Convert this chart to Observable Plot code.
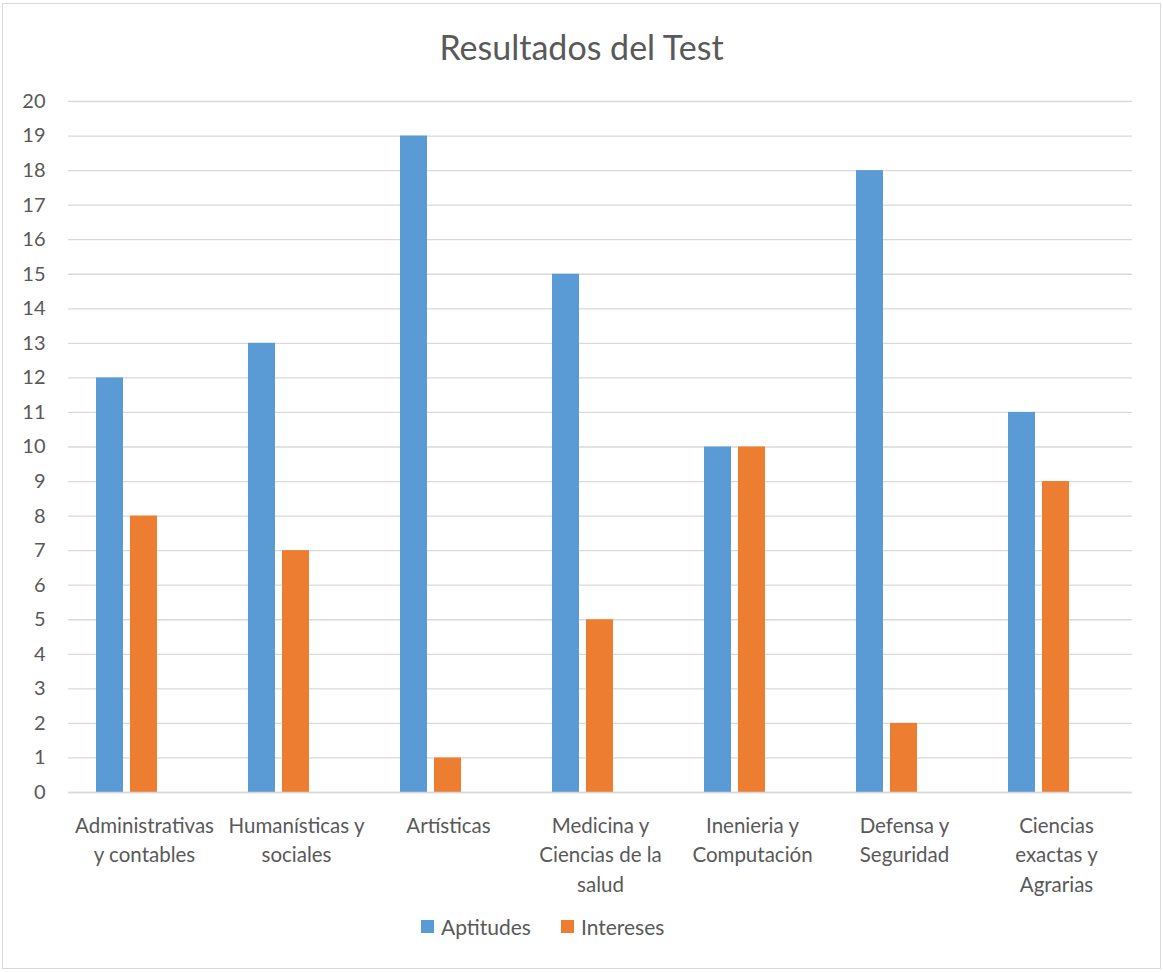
<!DOCTYPE html>
<html>
<head>
<meta charset="utf-8">
<script src="https://cdn.jsdelivr.net/npm/d3@7"></script>
<script src="https://cdn.jsdelivr.net/npm/@observablehq/plot@0.6"></script>
<style>
  body { margin: 0; background: #fff; font-family: Lato, "Open Sans", sans-serif; color: #595959; }
  #frame { position: absolute; left: 2px; top: 3px; width: 1159px; height: 966px; border: 1px solid #d9d9d9; box-sizing: border-box; }
  #title { position: absolute; left: 0; top: 26px; width: 1163px; text-align: center; font-size: 34px; color: #595959; }
  #chart { position: absolute; left: 0; top: 80px; }
  #legend { position: absolute; left: 421px; top: 914px; display: flex; align-items: center; font-size: 21px; color: #595959; }
  .sw { width: 13px; height: 13px; display: inline-block; margin-right: 7px; }
</style>
</head>
<body>
<div id="frame"></div>
<div id="title">Resultados del Test</div>
<div id="chart"></div>
<div id="legend">
  <span class="sw" style="background:#5b9bd5"></span><span>Aptitudes</span>
  <span class="sw" style="background:#ed7d31; margin-left:30px"></span><span>Intereses</span>
</div>
<script>
const categories = [
  "Administrativas\ny contables",
  "Humanísticas y\nsociales",
  "Artísticas",
  "Medicina y\nCiencias de la\nsalud",
  "Inenieria y\nComputación",
  "Defensa y\nSeguridad",
  "Ciencias\nexactas y\nAgrarias"
];
const aptitudes = [12, 13, 19, 15, 10, 18, 11];
const intereses = [8, 7, 1, 5, 10, 2, 9];
const seriesNames = ["Aptitudes", "Intereses", " "];
const seriesColors = ["#5b9bd5", "#ed7d31", "#ffffff"];
const yTicks = d3.range(0, 21, 1);

const data = [];
categories.forEach((c, i) => {
  data.push({cat: c, series: "Aptitudes", value: aptitudes[i]});
  data.push({cat: c, series: "Intereses", value: intereses[i]});
});

const chart = Plot.plot({
  width: 1163,
  height: 822,
  marginLeft: 66,
  marginRight: 30,
  marginTop: 21,
  marginBottom: 110,
  style: {fontFamily: "Lato, 'Open Sans', sans-serif", color: "#595959", background: "transparent"},
  fx: {domain: categories, padding: 0, label: null},
  x: {domain: seriesNames, paddingInner: 0.2, paddingOuter: 0.82, axis: null},
  y: {domain: [0, 20], label: null},
  color: {domain: seriesNames, range: seriesColors},
  marks: [
    Plot.gridY(yTicks, {stroke: "#d9d9d9", strokeOpacity: 1, strokeWidth: 1.3}),
    Plot.axisY(yTicks, {tickSize: 0, tickPadding: 23, fontSize: 20, fill: "#595959", label: null}),
    Plot.barY(data, {fx: "cat", x: "series", y: "value", fill: "series"}),
    Plot.ruleY([0], {stroke: "#d9d9d9", strokeWidth: 1.3}),
    Plot.axisFx({anchor: "bottom", tickSize: 0, tickPadding: 19, fontSize: 20.5, lineHeight: 1.45, fill: "#595959", label: null})
  ]
});
document.getElementById("chart").appendChild(chart);
</script>
</body>
</html>
